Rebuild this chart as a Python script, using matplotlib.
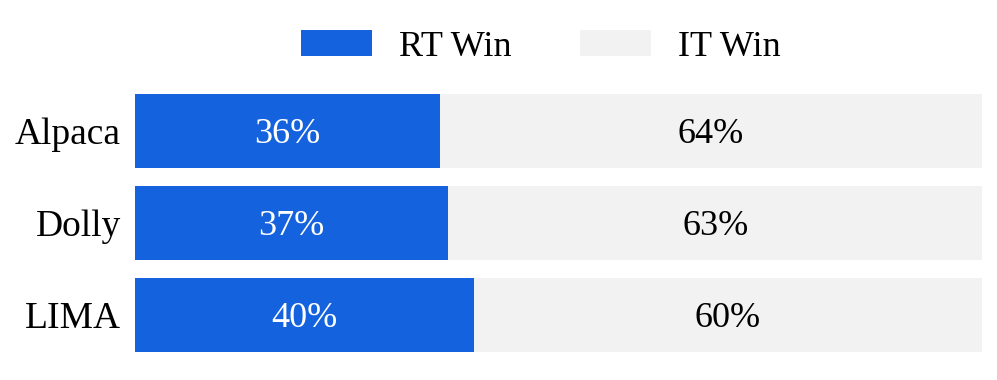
import matplotlib.pyplot as plt
from matplotlib.patches import Patch

categories = ["Alpaca", "Dolly", "LIMA"]
rt_win = [36, 37, 40]
it_win = [64, 63, 60]
series_names = ["RT Win", "IT Win"]

blue = "#1562DF"
gray = "#F2F2F2"

plt.rcParams['font.family'] = ['Liberation Serif', 'DejaVu Serif']

fig = plt.figure(figsize=(9.97, 3.8), dpi=100)
W, H = 997, 380
ax = fig.add_axes([135 / W, (H - 352) / H, (982 - 135) / W, (352 - 94) / H])

y = list(range(len(categories)))
ax.barh(y, rt_win, height=0.8, color=blue, edgecolor='none')
ax.barh(y, it_win, left=rt_win, height=0.8, color=gray, edgecolor='none')

for i, (a, b) in enumerate(zip(rt_win, it_win)):
    ax.text(a / 2, i + 0.04, f"{a}%", ha='center', va='center', color='white', fontsize=26)
    ax.text(a + b / 2, i + 0.04, f"{b}%", ha='center', va='center', color='black', fontsize=26)

ax.set_xlim(0, 100)
ax.set_ylim(2.4, -0.4)
ax.set_yticks(y)
ax.set_yticklabels(categories, fontsize=27)
ax.tick_params(axis='y', length=0, pad=10)
ax.set_xticks([])
for s in ax.spines.values():
    s.set_visible(False)

handles = [Patch(facecolor=blue, edgecolor='none'), Patch(facecolor=gray, edgecolor='none')]
fig.legend(handles, series_names, loc='center', bbox_to_anchor=(541 / W, 1 - 47 / H),
           ncol=2, frameon=False, fontsize=26, handlelength=1.97, handleheight=0.72,
           handletextpad=0.75, columnspacing=1.9, borderpad=0, borderaxespad=0)

fig.savefig("out.png", dpi=100)
